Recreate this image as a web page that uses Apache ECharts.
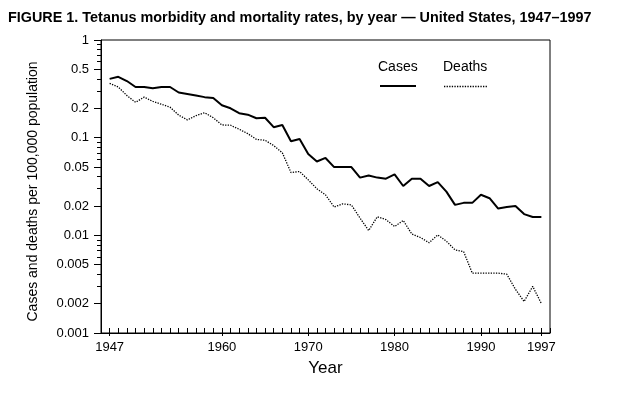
<!DOCTYPE html>
<html>
<head>
<meta charset="utf-8">
<title>Tetanus morbidity and mortality</title>
<script src="https://cdn.jsdelivr.net/npm/echarts@6/dist/echarts.min.js"></script>
<style>
  html, body { margin: 0; padding: 0; background: #fff; }
  #chart { width: 620px; height: 398px; }
</style>
</head>
<body>
<div id="chart"></div>
<script>
// years 1947 .. 1997
var years = [];
for (var y = 1947; y <= 1997; y++) years.push(y);

// rates per 100,000 population
var cases = [
  0.40, 0.42, 0.38, 0.33, 0.33, 0.32, 0.33, 0.33, 0.29, 0.28,   // 1947-1956
  0.27, 0.26, 0.255, 0.215, 0.20, 0.178, 0.172, 0.158, 0.16, 0.128, // 1957-1966
  0.135, 0.092, 0.097, 0.068, 0.057, 0.062, 0.05, 0.05, 0.05, 0.039, // 1967-1976
  0.041, 0.039, 0.038, 0.042, 0.032, 0.038, 0.038, 0.032, 0.035, 0.028, // 1977-1986
  0.0205, 0.0215, 0.0215, 0.026, 0.024, 0.0188, 0.0195, 0.02, 0.0165, 0.0154, // 1987-1996
  0.0154 // 1997
];
var deaths = [
  0.36, 0.33, 0.27, 0.23, 0.26, 0.235, 0.22, 0.205, 0.17, 0.152,
  0.168, 0.18, 0.16, 0.135, 0.134, 0.122, 0.11, 0.096, 0.094, 0.083,
  0.07, 0.044, 0.045, 0.037, 0.03, 0.026, 0.0195, 0.021, 0.0205, 0.015,
  0.0112, 0.0155, 0.0145, 0.0123, 0.0142, 0.0103, 0.0095, 0.0084, 0.0101, 0.0087,
  0.0071, 0.0068, 0.0041, 0.0041, 0.0041, 0.0041, 0.004, 0.0028, 0.0021, 0.003,
  0.002
];

var yearLabels = [1947, 1960, 1970, 1980, 1990, 1997];
var yMajor = [0.00100001, 0.002, 0.005, 0.01, 0.02, 0.05, 0.1, 0.2, 0.5, 0.99999];
var yMinor = [0.003, 0.004, 0.006, 0.007, 0.008, 0.009,
  0.03, 0.04, 0.06, 0.07, 0.08, 0.09,
  0.3, 0.4, 0.6, 0.7, 0.8, 0.9];

var FONT = 'Liberation Sans, Arial, sans-serif';

var chart = echarts.init(document.getElementById('chart'));

chart.setOption({
  animation: false,
  backgroundColor: '#fff',
  textStyle: { fontFamily: FONT, color: '#000' },
  title: {
    text: 'FIGURE 1. Tetanus morbidity and mortality rates, by year \u2014 United States, 1947\u20131997',
    left: 8,
    top: 11,
    padding: 0,
    textStyle: { fontSize: 14.4, fontWeight: 'bold', color: '#000', fontFamily: FONT }
  },
  grid: {
    left: 101,
    right: 70,
    top: 40,
    bottom: 65,
    show: true,
    borderColor: '#000',
    borderWidth: 1,
    backgroundColor: 'transparent'
  },
  xAxis: [
    {
      type: 'value',
      min: 1946,
      max: 1998,
      interval: 1,
      name: 'Year',
      nameLocation: 'middle',
      nameGap: 27,
      nameTextStyle: { fontSize: 17, color: '#000' },
      axisLine: { lineStyle: { color: '#000', width: 1 } },
      axisTick: { inside: true, length: 5, lineStyle: { color: '#000' } },
      axisLabel: {
        customValues: yearLabels,
        margin: 8,
        fontSize: 13,
        color: '#000',
        formatter: function (v) { return String(v); }
      },
      splitLine: { show: false }
    },
    {
      type: 'value',
      min: 1946,
      max: 1998,
      position: 'bottom',
      axisLine: { show: false },
      axisTick: { customValues: yearLabels, length: 3, lineStyle: { color: '#000' } },
      axisLabel: { show: false },
      splitLine: { show: false }
    }
  ],
  yAxis: [
    {
      type: 'log',
      logBase: 10,
      min: 0.001,
      max: 1,
      name: 'Cases and deaths per 100,000 population',
      nameLocation: 'middle',
      nameGap: 61,
      nameTextStyle: { fontSize: 14, color: '#000', padding: [0, 0, 0, -10] },
      axisLine: { show: true, lineStyle: { color: '#000', width: 1 } },
      axisTick: { show: true, customValues: yMajor, length: 7, lineStyle: { color: '#000' } },
      axisLabel: {
        customValues: yMajor,
        margin: 12,
        fontSize: 13,
        color: '#000',
        formatter: function (v) { return String(+Number(v).toPrecision(1)); }
      },
      splitLine: { show: false }
    },
    {
      type: 'log',
      logBase: 10,
      min: 0.001,
      max: 1,
      position: 'left',
      axisLine: { show: false },
      axisTick: { show: true, customValues: yMinor, length: 4, lineStyle: { color: '#000' } },
      axisLabel: { show: false },
      splitLine: { show: false }
    }
  ],
  series: [
    {
      name: 'Cases',
      type: 'line',
      xAxisIndex: 0,
      yAxisIndex: 0,
      symbol: 'none',
      data: years.map(function (yr, i) { return [yr, cases[i]]; }),
      lineStyle: { color: '#000', width: 2 }
    },
    {
      name: 'Deaths',
      type: 'line',
      xAxisIndex: 0,
      yAxisIndex: 0,
      symbol: 'none',
      data: years.map(function (yr, i) { return [yr, deaths[i]]; }),
      lineStyle: { color: '#000', width: 1.3, type: [1.3, 1.3] }
    }
  ],
  // legend: labels with their line samples underneath
  graphic: [
    { type: 'text', left: 378, top: 60, style: { text: 'Cases', font: '14px ' + FONT, fill: '#000' } },
    { type: 'line', shape: { x1: 380, y1: 86, x2: 416, y2: 86 }, style: { stroke: '#000', lineWidth: 2 } },
    { type: 'text', left: 443, top: 60, style: { text: 'Deaths', font: '14px ' + FONT, fill: '#000' } },
    { type: 'line', shape: { x1: 444, y1: 86.5, x2: 487, y2: 86.5 }, style: { stroke: '#000', lineWidth: 1.3, lineDash: [1.3, 1.3] } }
  ]
});
</script>
</body>
</html>
